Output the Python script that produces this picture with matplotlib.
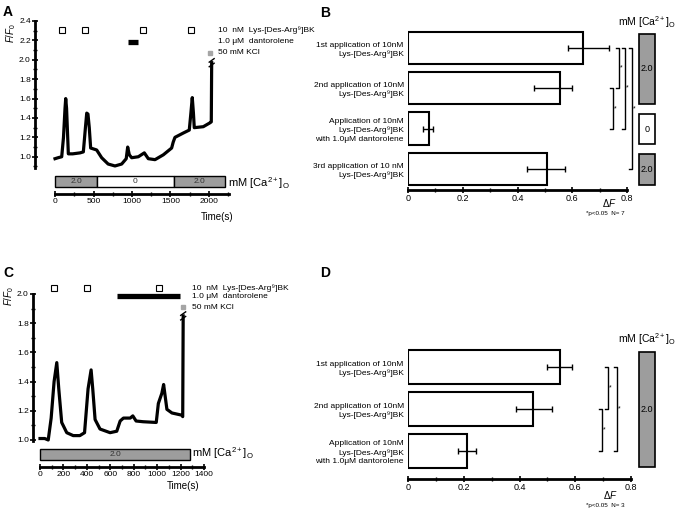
import matplotlib.pyplot as plt
from matplotlib.patches import Rectangle
from matplotlib.ticker import MultipleLocator

plt.rcParams['font.family'] = ['Liberation Sans', 'DejaVu Sans']
plt.rcParams['mathtext.fontset'] = 'custom'
plt.rcParams['mathtext.rm'] = 'Liberation Sans'
plt.rcParams['mathtext.it'] = 'Liberation Sans:italic'
plt.rcParams['mathtext.bf'] = 'Liberation Sans:bold'

W, H = 677, 509
GRAY = '#9d9d9d'

# ─────────────────────────────────────────────
# Data: panel A trace (time in s, F/F0)
# ─────────────────────────────────────────────
a_time  = [0, 40, 87, 110, 130, 139, 150, 173, 230, 325, 368, 395, 412, 428, 445, 463,
           541, 606, 690, 779, 866, 925, 944, 965, 996, 1082, 1160, 1212, 1299, 1407,
           1515, 1535, 1558, 1667, 1744, 1765, 1783, 1798, 1809, 1926, 2013, 2030, 2035]
a_ratio = [0.98, 0.99, 1.00, 1.20, 1.50, 1.60, 1.50, 1.03, 1.03, 1.04, 1.05, 1.30, 1.45, 1.44, 1.30, 1.09,
           1.07, 0.99, 0.925, 0.905, 0.925, 0.98, 1.10, 1.02, 0.99, 1.00, 1.04, 0.98, 0.97, 1.02,
           1.09, 1.15, 1.20, 1.245, 1.275, 1.45, 1.61, 1.45, 1.30, 1.31, 1.35, 1.36, 1.97]
a_bk_times = [90, 390, 1140, 1770]
a_dan      = [950, 1080]
a_kcl      = 2015
a_ca_start = [0, 545, 1545]
a_ca_end   = [545, 1545, 2210]
a_ca_label = ['2.0', '0', '2.0']

# panel C trace
c_time  = [0, 40, 70, 95, 120, 143, 160, 185, 228, 283, 340, 380, 410, 436, 450, 470,
           512, 598, 655, 684, 712, 770, 792, 820, 880, 992, 1010, 1040, 1055, 1083, 1126,
           1210, 1218, 1222]
c_ratio = [1.01, 1.01, 1.00, 1.15, 1.40, 1.53, 1.35, 1.12, 1.05, 1.03, 1.03, 1.05, 1.35, 1.48, 1.35, 1.14,
           1.075, 1.05, 1.06, 1.13, 1.15, 1.15, 1.165, 1.13, 1.125, 1.12, 1.25, 1.32, 1.38, 1.21, 1.185,
           1.17, 1.16, 1.85]
c_bk_times = [115, 400, 1015]
c_dan      = [655, 1195]
c_kcl      = 1220
c_ca_start = [0]
c_ca_end   = [1280]
c_ca_label = ['2.0']

# panel B bars (ΔF)
b_labels = ['1st application of 10nM\nLys-[Des-Arg⁹]BK',
            '2nd application of 10nM\nLys-[Des-Arg⁹]BK',
            'Application of 10nM\nLys-[Des-Arg⁹]BK\nwith 1.0μM dantorolene',
            '3rd application of 10 nM\nLys-[Des-Arg⁹]BK']
b_mean  = [0.64, 0.555, 0.077, 0.506]
b_err_lo = [0.055, 0.095, 0.022, 0.071]
b_err_hi = [0.095, 0.045, 0.013, 0.069]
b_sig   = [(0, 1), (1, 2), (0, 2), (0, 3)]
b_ca    = [(0, 1, '2.0', GRAY), (2, 2, '0', 'white'), (3, 3, '2.0', GRAY)]
b_note  = '*p<0.05  N= 7'

# panel D bars
d_labels = ['1st application of 10nM\nLys-[Des-Arg⁹]BK',
            '2nd application of 10nM\nLys-[Des-Arg⁹]BK',
            'Application of 10nM\nLys-[Des-Arg⁹]BK\nwith 1.0μM dantorolene']
d_mean  = [0.545, 0.45, 0.21]
d_err_lo = [0.045, 0.062, 0.03]
d_err_hi = [0.045, 0.065, 0.035]
d_sig   = [(0, 1), (0, 2), (1, 2)]
d_ca    = [(0, 2, '2.0', GRAY)]
d_note  = '*p<0.05  N= 3'

bar_ticks = [0, 0.2, 0.4, 0.6, 0.8]
bar_tick_labels = ['0', '0.2', '0.4', '0.6', '0.8']

legend_lines = ['10  nM  Lys-[Des-Arg⁹]BK', '1.0 μM  dantorolene', '50 mM KCl']
ca_text = r'mM [Ca$^{2+}$]$_{\rm O}$'

fig = plt.figure(figsize=(W / 100, H / 100), dpi=100)


def px_axes(x0, y0, x1, y1):
    return fig.add_axes([x0 / W, 1 - y1 / H, (x1 - x0) / W, (y1 - y0) / H])


def fig_text(x, y, s, **kw):
    fig.text(x / W, 1 - y / H, s, **kw)


def trace_panel(box, xlim, ylim, t, r, bk, dan, kcl, y_bk, y_dan, y_kcl, txt_x, txt_y, major):
    ax = px_axes(*box)
    ax.plot(t, r, color='k', lw=2.3, solid_joinstyle='round', clip_on=False)
    ax.plot(bk, [y_bk] * len(bk), 's', ms=4, mfc='white', mec='k', mew=0.8, clip_on=False)
    ax.plot(dan, [y_dan] * 2, color='k', lw=3.8, solid_capstyle='butt', clip_on=False)
    ax.plot([kcl], [y_kcl], 's', ms=3, color='#a5a5a5', clip_on=False)
    # break marks on KCl response
    dx = (xlim[1] - xlim[0]) * 0.012
    dy = (ylim[1] - ylim[0]) * 0.012
    for off in (-1.3, 1.3):
        ax.plot([t[-1] - dx, t[-1] + dx], [r[-1] + off * dy - dy, r[-1] + off * dy + dy],
                color='k', lw=1, clip_on=False)
    for s, yy in zip(legend_lines, txt_y):
        ax.text(txt_x, yy, s, fontsize=6, ha='left', va='center')
    for side in ('top', 'right', 'bottom'):
        ax.spines[side].set_visible(False)
    ax.spines['left'].set_linewidth(2)
    ax.set_xticks([])
    ax.yaxis.set_major_locator(MultipleLocator(major))
    ax.yaxis.set_minor_locator(MultipleLocator(major / 2))
    ax.tick_params(axis='y', which='major', direction='inout', length=4, width=1.2, labelsize=6, pad=1)
    ax.tick_params(axis='y', which='minor', direction='inout', length=3, width=1)
    ax.set_xlim(*xlim)
    ax.set_ylim(*ylim)
    return ax


def time_panel(box, xlim, starts, ends, labels, axis_end, major):
    ax = px_axes(*box)
    for s, e, lab in zip(starts, ends, labels):
        fc = 'white' if lab == '0' else GRAY
        ax.barh(0.55, e - s, left=s, height=0.5, color=fc, edgecolor='k', lw=1)
        ax.text((s + e) / 2, 0.56, lab, fontsize=6, ha='center', va='center', color='#333333')
    for side in ('top', 'right', 'left'):
        ax.spines[side].set_visible(False)
    ax.spines['bottom'].set_linewidth(2)
    ax.spines['bottom'].set_bounds(0, axis_end)
    ax.set_yticks([])
    n_major = int(axis_end // major)
    ax.set_xticks([major * i for i in range(n_major + 1)])
    ax.set_xticks([major / 2 * i for i in range(int(axis_end // (major / 2)) + 1)], minor=True)
    ax.tick_params(axis='x', which='major', direction='inout', length=4, width=1.2, labelsize=6, pad=1)
    ax.tick_params(axis='x', which='minor', direction='inout', length=3, width=1)
    ax.set_xlim(*xlim)
    ax.set_ylim(0, 1)
    return ax


def bar_panel(box, xlim, ylim, labels, mean, lo, hi, sig, sig_x, ca, ca_x):
    ax = px_axes(*box)
    pos = list(range(len(mean)))
    ax.barh(pos, mean, height=0.8, color='white', edgecolor='k', lw=1.5)
    ax.errorbar(mean, pos, xerr=[lo, hi], fmt='none', ecolor='k', elinewidth=1, capsize=2, capthick=1)
    ax.set_yticks(pos)
    ax.set_yticklabels(labels, fontsize=6, linespacing=1.3)
    ax.tick_params(axis='y', length=0, pad=3)
    for side in ('top', 'right', 'left'):
        ax.spines[side].set_visible(False)
    ax.spines['bottom'].set_linewidth(2)
    ax.spines['bottom'].set_bounds(0, 0.8)
    ax.set_xticks(bar_ticks)
    ax.set_xticklabels(bar_tick_labels)
    ax.set_xticks([0.1 * i for i in range(9)], minor=True)
    ax.tick_params(axis='x', which='major', direction='inout', length=4, width=1.2, labelsize=6.5, pad=1)
    ax.tick_params(axis='x', which='minor', direction='inout', length=3, width=1)
    tick = (xlim[1] - xlim[0]) * 0.012
    for (i, j), x in zip(sig, sig_x):
        ax.plot([x - tick, x, x, x - tick], [i, i, j, j], color='k', lw=1, clip_on=False)
        ax.text(x + tick * 0.4, (i + j) / 2, '*', fontsize=5, ha='left', va='center')
    for i, j, lab, fc in ca:
        y0 = i - 0.36
        y1 = j + 0.39
        ax.add_patch(Rectangle((ca_x[0], y0), ca_x[1] - ca_x[0], y1 - y0,
                               facecolor=fc, edgecolor='k', lw=1.2, clip_on=False))
        ax.text((ca_x[0] + ca_x[1]) / 2, (y0 + y1) / 2, lab, fontsize=6.5, ha='center', va='center')
    ax.set_xlim(*xlim)
    ax.set_ylim(*ylim)
    return ax


# ─────────────────────────────────────────────
# Panel A
# ─────────────────────────────────────────────
xa = (-260, 2403)
trace_panel((35, 21, 240, 168), xa, (0.884, 2.4), a_time, a_ratio, a_bk_times, a_dan, a_kcl,
            2.31, 2.185, 2.07, 2117, [2.31, 2.185, 2.07], 0.2)
time_panel((35, 172, 240, 194), xa, a_ca_start, a_ca_end, a_ca_label, 2260, 500)
fig_text(217, 217, 'Time(s)', fontsize=7, ha='center', va='center')
fig_text(228, 183, ca_text, fontsize=8, ha='left', va='center')
fig_text(11, 33, r'$\it{F/F}_{\it{0}}$', fontsize=7, rotation=90, ha='center', va='center')

# ─────────────────────────────────────────────
# Panel C
# ─────────────────────────────────────────────
xc = (-60, 1707)
trace_panel((33, 294, 240, 441), xc, (0.993, 2.0), c_time, c_ratio, c_bk_times, c_dan, c_kcl,
            2.04, 1.985, 1.91, 1298, [2.04, 1.98, 1.91], 0.2)
time_panel((33, 444, 240, 467), xc, c_ca_start, c_ca_end, c_ca_label, 1400, 200)
fig_text(183, 486, 'Time(s)', fontsize=7, ha='center', va='center')
fig_text(192, 453, ca_text, fontsize=8, ha='left', va='center')
fig_text(9, 296, r'$\it{F/F}_{\it{0}}$', fontsize=7, rotation=90, ha='center', va='center')

# ─────────────────────────────────────────────
# Panel B
# ─────────────────────────────────────────────
sb = 273.75  # px per ΔF unit
bar_panel((408, 25, 668, 190), (0, 260 / sb), (3.524, -0.571), b_labels, b_mean, b_err_lo, b_err_hi,
          b_sig, [(619 - 408) / sb, (613 - 408) / sb, (625 - 408) / sb, (632 - 408) / sb],
          b_ca, [(639 - 408) / sb, (655 - 408) / sb])
fig_text(609, 203, r'$\mathit{\Delta F}$', fontsize=7, ha='center', va='center')
fig_text(605, 213, b_note, fontsize=4.5, ha='center', va='center')
fig_text(676, 22, ca_text, fontsize=7.5, ha='right', va='center')

# ─────────────────────────────────────────────
# Panel D
# ─────────────────────────────────────────────
sd = 278.75
bar_panel((408, 340, 668, 479), (0, 260 / sd), (2.667, -0.643), d_labels, d_mean, d_err_lo, d_err_hi,
          d_sig, [(608 - 408) / sd, (617 - 408) / sd, (602 - 408) / sd],
          d_ca, [(639 - 408) / sd, (655 - 408) / sd])
fig_text(610, 495, r'$\mathit{\Delta F}$', fontsize=7, ha='center', va='center')
fig_text(605, 505, d_note, fontsize=4.5, ha='center', va='center')
fig_text(676, 339, ca_text, fontsize=7.5, ha='right', va='center')

# panel letters
for letter, x, y in [('A', 3, 5), ('B', 320, 6), ('C', 3, 266), ('D', 320, 266)]:
    fig_text(x, y, letter, fontsize=10, fontweight='bold', ha='left', va='top')

fig.savefig('out.png', dpi=100)
